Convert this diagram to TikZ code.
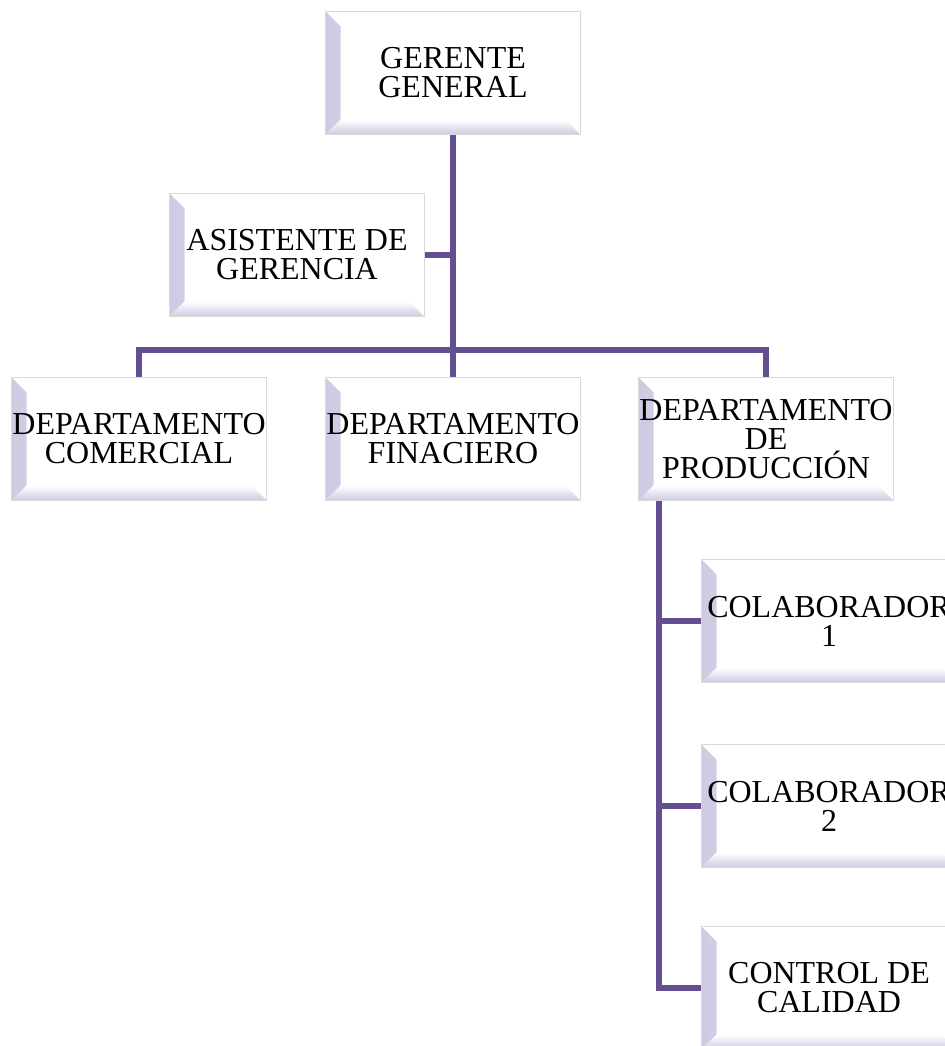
\documentclass[tikz,border=0pt]{standalone}
\usepackage{fontspec}
\setmainfont{Liberation Serif}
\usepackage{tikz}
\usetikzlibrary{positioning,calc}
\usepackage{xcolor}
\definecolor{orgpurple}{RGB}{100,80,145}
\definecolor{bevel}{RGB}{206,202,226}
\newcommand{\orgfont}{\fontsize{18.2}{16.5}\selectfont}
\tikzstyle{orgline} = [line width=3pt, color=orgpurple]
\tikzstyle{orgbox} = [rectangle, minimum width=5.1cm, minimum height=2.46cm, inner sep=0pt, align=center, fill=white, draw=black!15, line width=0.6pt, font=\orgfont, text=black,
  path picture={
    \shade[left color=bevel, right color=white] (path picture bounding box.north west) -- ([shift={(0.3cm,-0.3cm)}]path picture bounding box.north west) -- ([shift={(0.3cm,0.3cm)}]path picture bounding box.south west) -- (path picture bounding box.south west) -- cycle;
    \shade[bottom color=bevel, top color=white] (path picture bounding box.south west) -- ([shift={(0.3cm,0.3cm)}]path picture bounding box.south west) -- ([shift={(-0.3cm,0.3cm)}]path picture bounding box.south east) -- (path picture bounding box.south east) -- cycle;
  }]

\begin{document}
\begin{tikzpicture}[x=0.02cm, y=-0.02cm]
\useasboundingbox (0,0) rectangle (945,1046);

\node[orgbox] (gg) at (453,73) {GERENTE\\GENERAL};
\node[orgbox] (ag) at (297,255) {ASISTENTE DE\\GERENCIA};
\node[orgbox, below=4.84cm of gg] (df) {DEPARTAMENTO\\FINACIERO};
\node[orgbox, left=1.16cm of df] (dc) {DEPARTAMENTO\\COMERCIAL};
\node[orgbox, right=1.14cm of df] (dp) {DEPARTAMENTO\\DE\\PRODUCCIÓN};

\node[orgbox] (c1) at (829,621) {COLABORADOR\\1};
\node[orgbox, below=1.22cm of c1] (c2) {COLABORADOR\\2};
\node[orgbox, below=1.16cm of c2] (cc) {CONTROL DE\\CALIDAD};

% lines of the chart
\coordinate (bar) at (453,350);
\coordinate (ptop) at ($(dp.south west)+(21,0)$);
\draw[orgline] (gg.south) -- (df.north);
\draw[orgline] (ag.east) -- (ag.east -| gg.south);
\draw[orgline] (dc.north) |- (bar) -| (dp.north);
\draw[orgline] (ptop) |- (cc.west);
\draw[orgline] (ptop) |- (c1.west);
\draw[orgline] (ptop) |- (c2.west);
\end{tikzpicture}
\end{document}
